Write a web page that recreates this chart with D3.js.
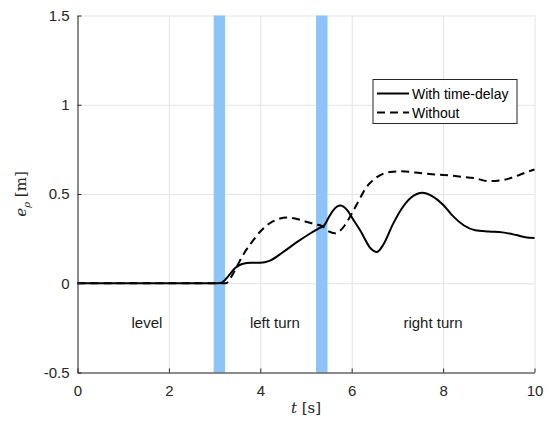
<!DOCTYPE html>
<html lang="en">
<head>
    <meta charset="UTF-8">
    <title>Tracking error e_rho</title>
    <script src="https://cdnjs.cloudflare.com/ajax/libs/d3/7.8.5/d3.min.js"></script>
    <style>
        body { margin: 0; background: #fff; }
        svg { display: block; font-family: 'Liberation Sans', Arial, Helvetica, sans-serif; }
        .grid line { stroke: #e3e3e3; stroke-width: 1; }
        .grid path { display: none; }
        .axis path, .axis line { stroke: #262626; }
        .axis text { fill: #262626; }
    </style>
</head>
<body>
<svg id="chart" width="548" height="424"></svg>
<script>
    // data
    var xTicks = [0, 2, 4, 6, 8, 10];
    var yTicks = [-0.5, 0, 0.5, 1, 1.5];
    var bands = [[2.98, 3.23], [5.22, 5.47]];
    var phases = [
        { name: "level", t: 1.52 },
        { name: "left turn", t: 4.32 },
        { name: "right turn", t: 7.78 }
    ];
    var withDelay = [
        [0, 0], [1, 0], [2, 0], [3, 0], [3.15, 0.003], [3.3, 0.04], [3.45, 0.085], [3.6, 0.108],
        [3.8, 0.115], [4.0, 0.115], [4.2, 0.125], [4.5, 0.175], [4.8, 0.23], [5.1, 0.28],
        [5.3, 0.31], [5.4, 0.325], [5.5, 0.37], [5.6, 0.41], [5.75, 0.435], [5.9, 0.41],
        [6.05, 0.35], [6.2, 0.29], [6.4, 0.2], [6.55, 0.175], [6.7, 0.22], [6.9, 0.33],
        [7.1, 0.42], [7.3, 0.48], [7.55, 0.507], [7.75, 0.49], [8.0, 0.44], [8.2, 0.38],
        [8.45, 0.325], [8.7, 0.297], [9.0, 0.29], [9.3, 0.285], [9.6, 0.27], [9.8, 0.258], [10, 0.253]
    ];
    var without = [
        [0, 0], [3, 0], [3.25, 0], [3.35, 0.03], [3.5, 0.1], [3.65, 0.17], [3.8, 0.225],
        [4.0, 0.29], [4.2, 0.335], [4.4, 0.36], [4.6, 0.368], [4.8, 0.36], [5.0, 0.345],
        [5.2, 0.33], [5.35, 0.32], [5.5, 0.29], [5.63, 0.28], [5.75, 0.295], [5.85, 0.325],
        [6.0, 0.39], [6.15, 0.46], [6.3, 0.53], [6.5, 0.585], [6.7, 0.615], [6.9, 0.625],
        [7.1, 0.627], [7.4, 0.62], [7.7, 0.612], [8.0, 0.607], [8.4, 0.597], [8.7, 0.588],
        [9.0, 0.572], [9.3, 0.578], [9.6, 0.6], [9.8, 0.62], [10, 0.637]
    ];

    var svg = d3.select("#chart");
    var m = { left: 77.5, right: 13.5, top: 15.5, bottom: 51.5 };
    var W = 548 - m.left - m.right, H = 424 - m.top - m.bottom;
    var g = svg.append("g").attr("transform", "translate(" + m.left + "," + m.top + ")");

    var x = d3.scaleLinear().domain([0, 10]).range([0, W]);
    var y = d3.scaleLinear().domain([-0.5, 1.5]).range([H, 0]);

    // grid
    g.append("g").attr("class", "grid")
        .attr("transform", "translate(0," + H + ")")
        .call(d3.axisBottom(x).tickValues(xTicks).tickSize(-H).tickFormat(""));
    g.append("g").attr("class", "grid")
        .call(d3.axisLeft(y).tickValues(yTicks).tickSize(-W).tickFormat(""));

    // transition bands
    g.selectAll("rect.band").data(bands).enter().append("rect")
        .attr("class", "band")
        .attr("x", d => x(d[0]))
        .attr("width", d => x(d[1]) - x(d[0]))
        .attr("y", 0).attr("height", H)
        .attr("fill", "#8cc4f7");

    // phase labels
    g.selectAll("text.phase").data(phases).enter().append("text")
        .attr("class", "phase")
        .attr("x", d => x(d.t))
        .attr("y", y(-0.22) + 5)
        .attr("text-anchor", "middle")
        .attr("font-size", 15)
        .attr("fill", "#1a1a1a")
        .text(d => d.name);

    var line = d3.line().x(d => x(d[0])).y(d => y(d[1])).curve(d3.curveMonotoneX);

    g.append("path").datum(without)
        .attr("d", line).attr("fill", "none")
        .attr("stroke", "#000").attr("stroke-width", 2)
        .attr("stroke-dasharray", "8,5");
    g.append("path").datum(withDelay)
        .attr("d", line).attr("fill", "none")
        .attr("stroke", "#000").attr("stroke-width", 2);

    // axes, ticks pointing inward
    var xAxis = g.append("g").attr("class", "axis")
        .attr("transform", "translate(0," + H + ")")
        .call(d3.axisBottom(x).tickValues(xTicks).tickSize(-4).tickPadding(13).tickSizeOuter(0));
    var yAxis = g.append("g").attr("class", "axis")
        .call(d3.axisLeft(y).tickValues(yTicks).tickSize(-4).tickPadding(8).tickSizeOuter(0)
            .tickFormat(d => String(d)));
    xAxis.selectAll("text").attr("font-size", 15);
    yAxis.selectAll("text").attr("font-size", 15);

    // axis titles
    svg.append("text")
        .attr("x", m.left + W / 2).attr("y", 413)
        .attr("text-anchor", "middle")
        .attr("font-family", "'DejaVu Serif', 'Liberation Serif', serif")
        .attr("font-size", 15)
        .attr("fill", "#262626")
        .html("<tspan font-style='italic'>t</tspan> [s]");
    svg.append("text")
        .attr("transform", "translate(26," + (m.top + H / 2) + ") rotate(-90)")
        .attr("text-anchor", "middle")
        .attr("font-family", "'DejaVu Serif', 'Liberation Serif', serif")
        .attr("font-size", 15)
        .attr("fill", "#262626")
        .html("<tspan font-style='italic'>e</tspan><tspan font-style='italic' font-size='10' dy='4'>ρ</tspan><tspan dy='-4'> [m]</tspan>");

    // legend
    var leg = svg.append("g").attr("transform", "translate(373,79.5)");
    leg.append("rect").attr("width", 144).attr("height", 44)
        .attr("fill", "#fff").attr("stroke", "#262626").attr("stroke-width", 1);
    var items = [{ label: "With time-delay", dash: null }, { label: "Without", dash: "8,5" }];
    items.forEach(function(it, i) {
        var yy = 14 + i * 19;
        leg.append("line").attr("x1", 4).attr("x2", 36).attr("y1", yy).attr("y2", yy)
            .attr("stroke", "#000").attr("stroke-width", 2)
            .attr("stroke-dasharray", it.dash);
        leg.append("text").attr("x", 39).attr("y", yy + 5)
            .attr("font-size", 14).attr("fill", "#000").text(it.label);
    });
</script>
</body>
</html>
